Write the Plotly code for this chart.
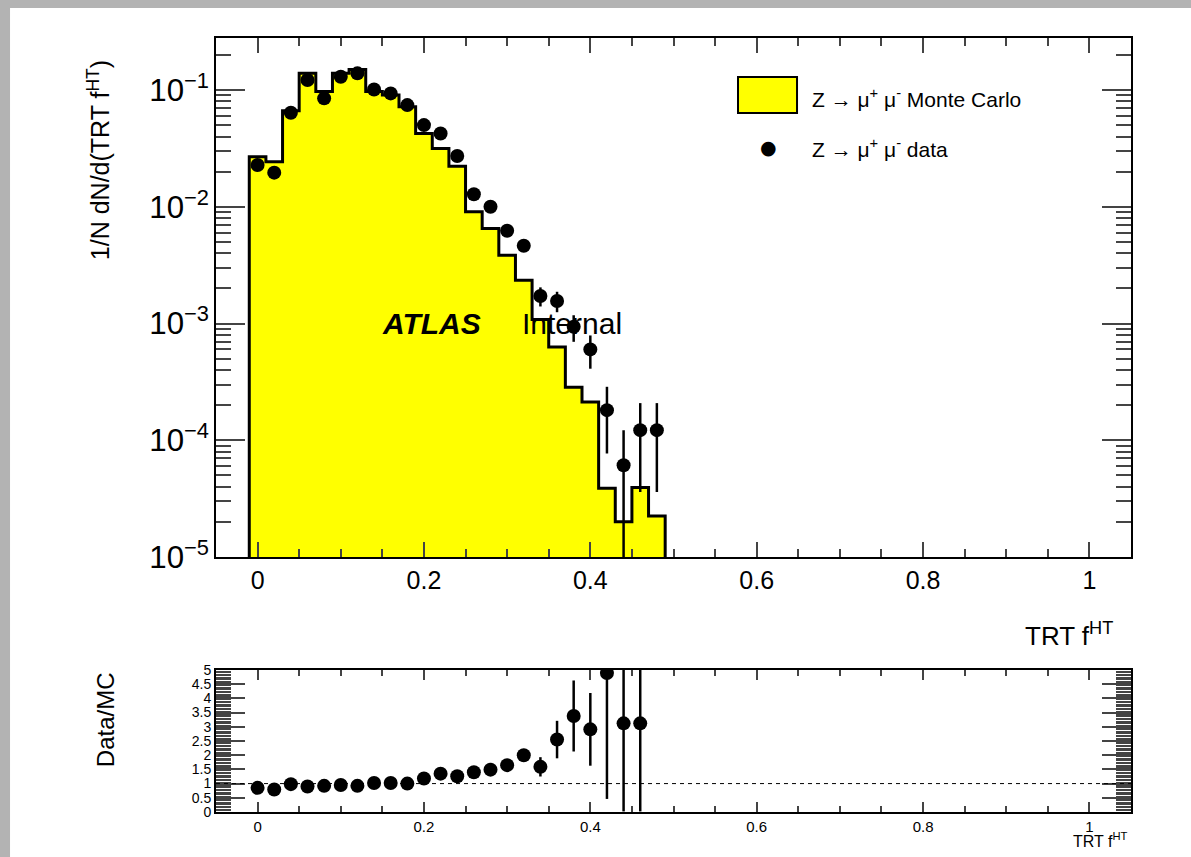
import plotly.graph_objects as go

# ---------------- data ----------------
bin_centers = [0.00, 0.02, 0.04, 0.06, 0.08, 0.10, 0.12, 0.14, 0.16, 0.18,
               0.20, 0.22, 0.24, 0.26, 0.28, 0.30, 0.32, 0.34, 0.36, 0.38,
               0.40, 0.42, 0.44, 0.46, 0.48]
bin_width = 0.02

mc_values = [0.0268, 0.0243, 0.0665, 0.139, 0.097, 0.139, 0.150, 0.097, 0.0906, 0.072,
             0.0425, 0.0316, 0.0223, 0.00905, 0.00653, 0.00385, 0.00235, 0.00108, 0.00063, 0.000285,
             0.000213, 3.87e-5, 2.0e-5, 3.94e-5, 2.24e-5]

data_values = [0.0228, 0.0196, 0.064, 0.122, 0.0849, 0.130, 0.139, 0.101, 0.0936, 0.0743,
               0.0501, 0.0425, 0.0272, 0.0128, 0.0100, 0.00624, 0.00464, 0.00172, 0.00156, 0.000937,
               0.0006, 1.81e-4, 6.1e-5, 1.22e-4, 1.22e-4]
data_err_up = [0.0012, 0.0011, 0.002, 0.003, 0.0023, 0.003, 0.003, 0.0026, 0.0025, 0.0022,
               0.0018, 0.0017, 0.0013, 0.0009, 0.0008, 0.00062, 0.00053, 0.00032, 0.00031, 0.00024,
               0.00019, 1.06e-4, 6.1e-5, 8.6e-5, 8.6e-5]
data_err_down = [0.0012, 0.0011, 0.002, 0.003, 0.0023, 0.003, 0.003, 0.0026, 0.0025, 0.0022,
                 0.0018, 0.0017, 0.0013, 0.0009, 0.0008, 0.00062, 0.00053, 0.00032, 0.00031, 0.00024,
                 0.00019, 1.04e-4, 6.05e-5, 8.6e-5, 8.6e-5]

ratio_x = [0.00, 0.02, 0.04, 0.06, 0.08, 0.10, 0.12, 0.14, 0.16, 0.18,
           0.20, 0.22, 0.24, 0.26, 0.28, 0.30, 0.32, 0.34, 0.36, 0.38,
           0.40, 0.42, 0.44, 0.46]
ratio_values = [0.85, 0.79, 0.98, 0.90, 0.92, 0.95, 0.92, 1.02, 1.02, 1.00,
                1.18, 1.35, 1.26, 1.40, 1.49, 1.65, 2.00, 1.59, 2.55, 3.38,
                2.91, 4.89, 3.12, 3.12]
ratio_err = [0.04, 0.04, 0.04, 0.03, 0.03, 0.03, 0.03, 0.03, 0.03, 0.03,
             0.05, 0.06, 0.07, 0.1, 0.13, 0.16, 0.22, 0.34, 0.66, 1.25,
             1.28, 4.43, 3.10, 3.10]

x_ticks = [0, 0.2, 0.4, 0.6, 0.8, 1]
ratio_y_ticks = [0, 0.5, 1, 1.5, 2, 2.5, 3, 3.5, 4, 4.5, 5]

FONT = "Liberation Sans"

# histogram outline (step) built from bin edges
left_edges = [c - bin_width / 2 for c in bin_centers]
outline_x = [left_edges[0]] + left_edges + [bin_centers[-1] + bin_width / 2]
outline_y = [1e-7] + mc_values + [1e-7]

fig = go.Figure()

fig.add_trace(go.Bar(
    x=bin_centers, y=mc_values, width=bin_width,
    marker=dict(color="#ffff00", line=dict(width=0)),
    xaxis="x", yaxis="y", showlegend=False, hoverinfo="skip"))

fig.add_trace(go.Scatter(
    x=outline_x, y=outline_y, mode="lines", line=dict(shape="hv", color="black", width=3),
    xaxis="x", yaxis="y", showlegend=False, hoverinfo="skip"))

fig.add_trace(go.Scatter(
    x=bin_centers, y=data_values, mode="markers",
    marker=dict(color="black", size=14, symbol="circle"),
    error_y=dict(type="data", array=data_err_up, arrayminus=data_err_down, symmetric=False,
                 color="black", thickness=2.5, width=0),
    xaxis="x", yaxis="y", showlegend=False))

fig.add_trace(go.Scatter(
    x=ratio_x, y=ratio_values, mode="markers",
    marker=dict(color="black", size=14, symbol="circle"),
    error_y=dict(type="data", array=ratio_err, color="black", thickness=2.5, width=0),
    xaxis="x2", yaxis="y2", showlegend=False))

main_dom = [0.3295, 1.0]
ratio_dom = [0.0, 0.1835]

fig.update_layout(
    width=1191, height=857,
    margin=dict(l=216, r=60, t=38, b=45),
    paper_bgcolor="white", plot_bgcolor="white",
    font=dict(family=FONT, color="black"),
    showlegend=False,
    bargap=0,
    xaxis=dict(domain=[0, 1], range=[-0.05, 1.05], anchor="y",
               tickvals=x_ticks, ticks="inside", ticklen=15, tickwidth=1.5,
               minor=dict(dtick=0.05, ticks="inside", ticklen=8, tickwidth=1.5),
               showline=True, linewidth=2, linecolor="black", mirror="allticks",
               showgrid=False, zeroline=False, tickfont=dict(size=25, family=FONT)),
    yaxis=dict(domain=main_dom, type="log", range=[-5, -0.554], anchor="x",
               dtick=1, exponentformat="power", ticks="inside", ticklen=29, tickwidth=1.5,
               minor=dict(dtick="D1", ticks="inside", ticklen=15, tickwidth=1.5),
               showline=True, linewidth=2, linecolor="black", mirror="allticks",
               showgrid=False, zeroline=False, tickfont=dict(size=25, family=FONT)),
    xaxis2=dict(domain=[0, 1], range=[-0.05, 1.05], anchor="y2",
                tickvals=x_ticks, ticks="inside", ticklen=10, tickwidth=1.5,
                minor=dict(dtick=0.05, ticks="inside", ticklen=6, tickwidth=1.5),
                showline=True, linewidth=2, linecolor="black", mirror="allticks",
                showgrid=False, zeroline=False, tickfont=dict(size=15, family=FONT)),
    yaxis2=dict(domain=ratio_dom, range=[0, 5], anchor="x2",
                tickvals=ratio_y_ticks, ticks="inside", ticklen=29, tickwidth=1.5,
                minor=dict(dtick=0.05, ticks="inside", ticklen=15, tickwidth=1, tickcolor="#444"),
                showline=True, linewidth=2, linecolor="black", mirror="allticks",
                showgrid=False, zeroline=False, tickfont=dict(size=14, family=FONT)),
)

# dashed unity line in ratio panel
fig.add_shape(type="line", xref="x2 domain", yref="y2", x0=0, x1=1, y0=1, y1=1,
              line=dict(color="black", width=1, dash="4px,4px"))

# page shadow (left/top gray border)
fig.add_shape(type="rect", xref="paper", yref="paper", x0=-0.2361, x1=-0.2251, y0=-0.0581, y1=1.0491,
              line=dict(width=0), fillcolor="#b3b3b3", layer="above")
fig.add_shape(type="rect", xref="paper", yref="paper", x0=-0.2361, x1=1.0656, y0=1.0388, y1=1.0491,
              line=dict(width=0), fillcolor="#b3b3b3", layer="above")

# legend (custom, ROOT-like)
fig.add_shape(type="rect", xref="paper", yref="paper", x0=0.5705, x1=0.635, y0=0.9031, y1=0.9496,
              line=dict(color="black", width=2), fillcolor="#ffff00")
fig.add_annotation(xref="paper", yref="paper", x=0.649, y=0.9225, xanchor="left", yanchor="middle",
                   text="Z → μ<sup>+</sup> μ<sup>-</sup> Monte Carlo", showarrow=False,
                   font=dict(size=21, family=FONT))
fig.add_annotation(xref="paper", yref="paper", x=0.6033, y=0.8592, xanchor="center", yanchor="middle",
                   text="●", showarrow=False, font=dict(size=19, family="DejaVu Sans"))
fig.add_annotation(xref="paper", yref="paper", x=0.649, y=0.8585, xanchor="left", yanchor="middle",
                   text="Z → μ<sup>+</sup> μ<sup>-</sup> data", showarrow=False,
                   font=dict(size=21, family=FONT))

# ATLAS Internal label
fig.add_annotation(xref="x", yref="y", x=0.147, y=-3.0, xanchor="left", yanchor="middle",
                   text="<b><i>ATLAS</i></b>", showarrow=False, font=dict(size=30, family=FONT))
fig.add_annotation(xref="x", yref="y", x=0.315, y=-3.0, xanchor="left", yanchor="middle",
                   text="Internal", showarrow=False, font=dict(size=30, family=FONT))

# axis titles
fig.add_annotation(xref="paper", yref="paper", x=-0.128, y=0.842, xanchor="center", yanchor="middle",
                   textangle=-90, text="1/N dN/d(TRT f<sup>HT</sup>)", showarrow=False,
                   font=dict(size=25, family=FONT))
fig.add_annotation(xref="paper", yref="paper", x=0.982, y=0.2287, xanchor="right", yanchor="middle",
                   text="TRT f<sup>HT</sup>", showarrow=False, font=dict(size=26, family=FONT))
fig.add_annotation(xref="paper", yref="paper", x=-0.120, y=0.1189, xanchor="center", yanchor="middle",
                   textangle=-90, text="Data/MC", showarrow=False, font=dict(size=24, family=FONT))
fig.add_annotation(xref="paper", yref="paper", x=0.999, y=-0.036, xanchor="right", yanchor="middle",
                   text="TRT f<sup>HT</sup>", showarrow=False, font=dict(size=16, family=FONT))

fig.write_html("out.html", config={"displayModeBar": False},
               post_script="document.body.style.margin='0';")
